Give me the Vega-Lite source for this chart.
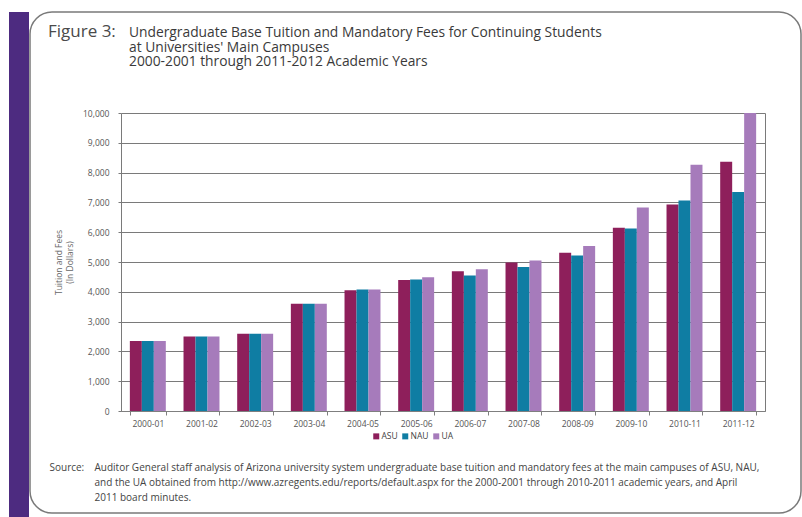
{
  "$schema": "https://vega.github.io/schema/vega-lite/v6.json",
  "background": "white",
  "padding": {"left": 9, "top": 11, "right": 0, "bottom": 0},
  "config": {"font": "Open Sans"},
  "title": {
    "text": "Figure 3:",
    "anchor": "start",
    "fontSize": 17,
    "fontWeight": "normal",
    "color": "#4a4a4a",
    "dx": 39,
    "dy": 30,
    "offset": 0
  },
  "spacing": 0,
  "hconcat": [
    {
      "width": 20,
      "height": 506,
      "view": {"fill": "#4d2b80", "stroke": null},
      "data": {"values": []},
      "mark": "rect",
      "encoding": {}
    },
    {
      "width": 771,
      "height": 501,
      "view": {"fill": "white", "stroke": "#7a7a7a", "strokeWidth": 1.5, "cornerRadius": 22},
      "title": {
        "text": [
          "Undergraduate Base Tuition and Mandatory Fees for Continuing Students",
          "at Universities' Main Campuses",
          "2000-2001 through 2011-2012 Academic Years"
        ],
        "anchor": "start",
        "frame": "group",
        "fontSize": 13.8,
        "fontWeight": "normal",
        "color": "#3a3a3a",
        "lineHeight": 14.5,
        "dx": 99,
        "dy": 57,
        "offset": 0
      },
      "data": {
        "values": [
          {"year": "2000-01", "university": "ASU", "fees": 2348},
          {"year": "2000-01", "university": "NAU", "fees": 2348},
          {"year": "2000-01", "university": "UA", "fees": 2348},
          {"year": "2001-02", "university": "ASU", "fees": 2500},
          {"year": "2001-02", "university": "NAU", "fees": 2500},
          {"year": "2001-02", "university": "UA", "fees": 2500},
          {"year": "2002-03", "university": "ASU", "fees": 2590},
          {"year": "2002-03", "university": "NAU", "fees": 2590},
          {"year": "2002-03", "university": "UA", "fees": 2590},
          {"year": "2003-04", "university": "ASU", "fees": 3600},
          {"year": "2003-04", "university": "NAU", "fees": 3600},
          {"year": "2003-04", "university": "UA", "fees": 3600},
          {"year": "2004-05", "university": "ASU", "fees": 4050},
          {"year": "2004-05", "university": "NAU", "fees": 4080},
          {"year": "2004-05", "university": "UA", "fees": 4080},
          {"year": "2005-06", "university": "ASU", "fees": 4400},
          {"year": "2005-06", "university": "NAU", "fees": 4410},
          {"year": "2005-06", "university": "UA", "fees": 4490},
          {"year": "2006-07", "university": "ASU", "fees": 4690},
          {"year": "2006-07", "university": "NAU", "fees": 4550},
          {"year": "2006-07", "university": "UA", "fees": 4760},
          {"year": "2007-08", "university": "ASU", "fees": 4980},
          {"year": "2007-08", "university": "NAU", "fees": 4830},
          {"year": "2007-08", "university": "UA", "fees": 5050},
          {"year": "2008-09", "university": "ASU", "fees": 5310},
          {"year": "2008-09", "university": "NAU", "fees": 5220},
          {"year": "2008-09", "university": "UA", "fees": 5540},
          {"year": "2009-10", "university": "ASU", "fees": 6150},
          {"year": "2009-10", "university": "NAU", "fees": 6120},
          {"year": "2009-10", "university": "UA", "fees": 6830},
          {"year": "2010-11", "university": "ASU", "fees": 6930},
          {"year": "2010-11", "university": "NAU", "fees": 7060},
          {"year": "2010-11", "university": "UA", "fees": 8260},
          {"year": "2011-12", "university": "ASU", "fees": 8360},
          {"year": "2011-12", "university": "NAU", "fees": 7350},
          {"year": "2011-12", "university": "UA", "fees": 10000}
        ]
      },
      "layer": [
        {
          "mark": {"type": "bar"},
          "encoding": {
            "x": {
              "field": "year",
              "type": "nominal",
              "sort": null,
              "scale": {"range": [91, 735], "paddingInner": 0.33, "paddingOuter": 0.165},
              "axis": {
                "orient": "bottom",
                "offset": -102,
                "labelAngle": 0,
                "labelFontSize": 8.5,
                "labelColor": "#555555",
                "labelPadding": 4,
                "domainColor": "#7f7f7f",
                "tickColor": "#7f7f7f",
                "tickSize": 4,
                "tickBand": "extent",
                "title": [
                  "Auditor General staff analysis of Arizona university system undergraduate base tuition and mandatory fees at the main campuses of ASU, NAU,",
                  "and the UA obtained from http://www.azregents.edu/reports/default.aspx for the 2000-2001 through 2010-2011 academic years, and April",
                  "2011 board minutes."
                ],
                "titleFontSize": 10,
                "titleFontWeight": "normal",
                "titleColor": "#444444",
                "titleAlign": "left",
                "titleAnchor": "start",
                "titleBaseline": "top",
                "titleLineHeight": 15,
                "titleX": 64,
                "titleY": 51
              }
            },
            "xOffset": {"field": "university", "type": "nominal", "sort": ["ASU", "NAU", "UA"]},
            "y": {
              "field": "fees",
              "type": "quantitative",
              "scale": {"domain": [0, 10000], "range": [399, 101], "nice": false},
              "axis": {
                "orient": "left",
                "offset": -91,
                "values": [0, 1000, 2000, 3000, 4000, 5000, 6000, 7000, 8000, 9000, 10000],
                "format": ",.0f",
                "grid": true,
                "gridColor": "#7a7a7a",
                "domainColor": "#7a7a7a",
                "tickColor": "#7a7a7a",
                "tickSize": 3,
                "labelFontSize": 8.5,
                "labelColor": "#555555",
                "labelPadding": 9,
                "title": ["Tuition and Fees", "(In Dollars)"],
                "titleFontSize": 8.5,
                "titleFontWeight": "normal",
                "titleColor": "#666666",
                "titlePadding": 8
              }
            },
            "color": {
              "field": "university",
              "type": "nominal",
              "scale": {"domain": ["ASU", "NAU", "UA"], "range": ["#8e1f5b", "#0f7da3", "#a67bbb"]},
              "legend": {
                "orient": "none",
                "legendX": 363,
                "legendY": 420,
                "direction": "horizontal",
                "title": null,
                "symbolType": "square",
                "symbolSize": 36,
                "symbolOpacity": 1,
                "labelFontSize": 8.5,
                "labelColor": "#444444",
                "labelOffset": 1,
                "columnPadding": 3
              }
            }
          }
        },
        {
          "mark": {"type": "rule", "opacity": 0},
          "encoding": {
            "y": {
              "datum": 0,
              "type": "quantitative",
              "axis": {
                "orient": "right",
                "offset": -36,
                "labels": false,
                "ticks": false,
                "grid": false,
                "domainColor": "#7a7a7a",
                "title": "Source:",
                "titleAngle": 0,
                "titleFontSize": 10,
                "titleFontWeight": "normal",
                "titleColor": "#444444",
                "titleAlign": "left",
                "titleBaseline": "top",
                "titleX": -716,
                "titleY": 450
              }
            }
          }
        }
      ],
      "resolve": {"axis": {"y": "independent"}}
    }
  ]
}
